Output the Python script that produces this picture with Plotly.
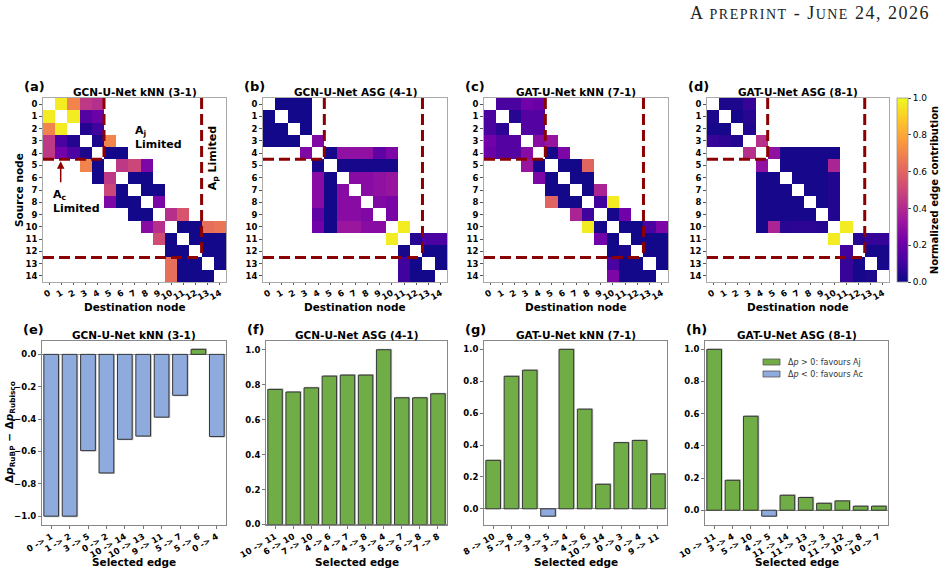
import plotly.graph_objects as go

W, H = 943, 574
N = None

# ---------------- data ----------------
node_labels = [str(i) for i in range(15)]
heat_titles = ["GCN-U-Net kNN (3-1)", "GCN-U-Net ASG (4-1)",
               "GAT-U-Net kNN (7-1)", "GAT-U-Net ASG (8-1)"]
bar_titles = heat_titles
panel_top = ["(a)", "(b)", "(c)", "(d)"]
panel_bot = ["(e)", "(f)", "(g)", "(h)"]

mat_gcn_knn = [
    [N, .97, .70, .45, .42, N, N, N, N, N, N, N, N, N, N],
    [.97, N, .97, .15, .20, N, N, N, N, N, N, N, N, N, N],
    [.70, .97, N, .04, .10, N, N, N, N, N, N, N, N, N, N],
    [.45, .12, .04, N, .03, .70, N, N, N, N, N, N, N, N, N],
    [.45, .22, .13, .03, N, .01, .01, N, N, N, N, N, N, N, N],
    [N, N, N, .70, .01, N, .45, .50, .25, N, N, N, N, N, N],
    [N, N, N, N, .01, .45, N, .01, .01, N, N, N, N, N, N],
    [N, N, N, N, N, .50, .01, N, .01, .01, N, N, N, N, N],
    [N, N, N, N, N, .25, .01, .01, N, .25, N, N, N, N, N],
    [N, N, N, N, N, N, N, .01, .01, N, .42, .55, N, N, N],
    [N, N, N, N, N, N, N, N, .28, .42, N, .01, .01, .63, .65],
    [N, N, N, N, N, N, N, N, N, .52, .01, N, .01, .01, .01],
    [N, N, N, N, N, N, N, N, N, N, .01, .01, N, .01, .01],
    [N, N, N, N, N, N, N, N, N, N, .63, .01, .01, N, .01],
    [N, N, N, N, N, N, N, N, N, N, .63, .01, .01, .01, N],
]

mat_gcn_asg = [
    [N, .01, .01, .01, N, N, N, N, N, N, N, N, N, N, N],
    [.01, N, .01, .01, N, N, N, N, N, N, N, N, N, N, N],
    [.01, .01, N, .01, N, N, N, N, N, N, N, N, N, N, N],
    [.01, .01, .01, N, .26, N, N, N, N, N, N, N, N, N, N],
    [N, N, N, .26, N, .02, .30, .30, .30, .18, .25, N, N, N, N],
    [N, N, N, N, .02, N, .02, .02, .02, .02, .02, N, N, N, N],
    [N, N, N, N, .28, .01, N, .28, .28, .30, .32, N, N, N, N],
    [N, N, N, N, .28, .01, .28, N, .28, .30, .32, N, N, N, N],
    [N, N, N, N, .28, .01, .28, .28, N, .26, .24, N, N, N, N],
    [N, N, N, N, .18, .01, .28, .28, .26, N, .24, N, N, N, N],
    [N, N, N, N, .22, .01, .33, .33, .28, .28, N, .97, N, N, N],
    [N, N, N, N, N, N, N, N, N, N, .97, N, .05, .12, .12],
    [N, N, N, N, N, N, N, N, N, N, N, .02, N, .01, .01],
    [N, N, N, N, N, N, N, N, N, N, N, .10, .01, N, .01],
    [N, N, N, N, N, N, N, N, N, N, N, .10, .01, .01, N],
]

mat_gat_knn = [
    [N, .12, .12, .22, .20, N, N, N, N, N, N, N, N, N, N],
    [.12, N, .05, .15, .15, N, N, N, N, N, N, N, N, N, N],
    [.12, .06, N, .15, .15, N, N, N, N, N, N, N, N, N, N],
    [.22, .15, .15, N, .28, .32, N, N, N, N, N, N, N, N, N],
    [.20, .15, .15, .28, N, .02, .25, N, N, N, N, N, N, N, N],
    [N, N, N, .32, .02, N, .01, .01, .60, N, N, N, N, N, N],
    [N, N, N, N, .25, .01, N, .01, .01, N, N, N, N, N, N],
    [N, N, N, N, N, .01, .01, N, .01, .38, N, N, N, N, N],
    [N, N, N, N, N, .60, .01, .01, N, .10, .97, N, N, N, N],
    [N, N, N, N, N, N, N, .38, .10, N, .02, .22, N, N, N],
    [N, N, N, N, N, N, N, N, .97, .02, N, .01, .01, .12, .25],
    [N, N, N, N, N, N, N, N, N, .22, .01, N, .01, .01, .01],
    [N, N, N, N, N, N, N, N, N, N, .01, .03, N, .01, .01],
    [N, N, N, N, N, N, N, N, N, N, .12, .01, .01, N, .01],
    [N, N, N, N, N, N, N, N, N, N, .25, .01, .01, .01, N],
]

mat_gat_asg = [
    [N, .03, .03, .08, N, N, N, N, N, N, N, N, N, N, N],
    [.03, N, .02, .05, N, N, N, N, N, N, N, N, N, N, N],
    [.02, .02, N, .04, N, N, N, N, N, N, N, N, N, N, N],
    [.08, .06, .04, N, .42, N, N, N, N, N, N, N, N, N, N],
    [N, N, N, .42, N, .30, .02, .02, .02, .02, .02, N, N, N, N],
    [N, N, N, N, .30, N, .02, .02, .02, .02, .38, N, N, N, N],
    [N, N, N, N, .02, .02, N, .02, .02, .02, .04, N, N, N, N],
    [N, N, N, N, .02, .02, .02, N, .02, .02, .04, N, N, N, N],
    [N, N, N, N, .02, .02, .02, .02, N, .02, .04, N, N, N, N],
    [N, N, N, N, .02, .02, .02, .02, .02, N, .04, N, N, N, N],
    [N, N, N, N, .02, .38, .05, .06, .06, .05, N, .97, N, N, N],
    [N, N, N, N, N, N, N, N, N, N, .97, N, .05, .08, .08],
    [N, N, N, N, N, N, N, N, N, N, N, .10, N, .02, .02],
    [N, N, N, N, N, N, N, N, N, N, N, .08, .02, N, .02],
    [N, N, N, N, N, N, N, N, N, N, N, .08, .02, .03, N],
]
matrices = [mat_gcn_knn, mat_gcn_asg, mat_gat_knn, mat_gat_asg]

edges_e = ["0 -> 1", "1 -> 2", "3 -> 5", "0 -> 2", "10 -> 14", "10 -> 13",
           "9 -> 11", "5 -> 7", "5 -> 6", "0 -> 4"]
vals_e = [-1.0, -1.0, -0.595, -0.733, -0.525, -0.505, -0.388, -0.253, 0.031, -0.508]

edges_f = ["10 -> 11", "6 -> 10", "7 -> 10", "4 -> 6", "4 -> 7", "4 -> 8",
           "3 -> 4", "6 -> 7", "6 -> 8", "7 -> 8"]
vals_f = [0.773, 0.758, 0.782, 0.849, 0.855, 0.855, 1.0, 0.725, 0.725, 0.748]

edges_g = ["8 -> 10", "5 -> 8", "7 -> 9", "3 -> 5", "3 -> 4", "4 -> 6",
           "10 -> 14", "0 -> 3", "0 -> 4", "9 -> 11"]
vals_g = [0.304, 0.831, 0.869, -0.046, 1.0, 0.625, 0.154, 0.415, 0.429, 0.219]

edges_h = ["10 -> 11", "3 -> 4", "5 -> 10", "4 -> 5", "11 -> 14", "11 -> 13",
           "0 -> 3", "11 -> 12", "10 -> 8", "10 -> 7"]
vals_h = [1.0, 0.186, 0.584, -0.037, 0.093, 0.079, 0.043, 0.058, 0.025, 0.025]

bar_edges = [edges_e, edges_f, edges_g, edges_h]
bar_vals = [vals_e, vals_f, vals_g, vals_h]

cbar_ticks = [0.0, 0.2, 0.4, 0.6, 0.8, 1.0]
legend_labels = ["Δ<i>p</i> &gt; 0: favours Aj", "Δ<i>p</i> &lt; 0: favours Ac"]

# ---------------- style / layout ----------------
GREEN = "#70ad47"
BLUE = "#8faadc"
RED = "#8b0000"
FONT = "DejaVu Sans"

heat_x = [(43, 226), (263, 447), (484, 668), (707, 889)]
heat_y = (98, 282)
bar_x = [(42, 226), (266, 447), (484, 667), (705, 888)]
bar_y = (341, 524.5)


def fx(p):
    return p / W


def fy(p):
    return 1 - p / H


def bold(size):
    return dict(family=FONT, size=size, color="black", weight="bold")


def fmt(v):
    s = f"{abs(v):.1f}"
    return ("\u2212" + s) if v < -1e-9 else s


fig = go.Figure()
layout = dict(width=W, height=H,
              margin=dict(l=0, r=0, t=0, b=0, pad=0, autoexpand=False),
              paper_bgcolor="white", plot_bgcolor="white", showlegend=False,
              barmode="overlay")
annotations = []
shapes = []

for i, M in enumerate(matrices):
    k = i + 1
    xa, ya = f"x{k}", f"y{k}"
    fig.add_trace(go.Heatmap(
        z=M, x=list(range(15)), y=list(range(15)), colorscale="Plasma",
        zmin=0, zmax=1, xaxis=xa, yaxis=ya, hoverongaps=False,
        showscale=(i == 3),
        colorbar=dict(
            x=fx(897), xanchor="left", y=fy(heat_y[0]), yanchor="top",
            lenmode="pixels", len=heat_y[1] - heat_y[0],
            thicknessmode="pixels", thickness=11, xpad=0, ypad=0,
            outlinewidth=0.8, outlinecolor="#999",
            tickvals=cbar_ticks, ticktext=[f"{t:.1f}" for t in cbar_ticks],
            ticks="outside", ticklen=3, tickcolor="#444",
            tickfont=dict(family=FONT, size=9, color="black"),
            title=dict(text="Normalized edge contribution", side="right",
                       font=bold(10)),
        ) if i == 3 else None,
    ))
    x0, x1 = heat_x[i]
    layout[f"xaxis{k}"] = dict(
        domain=[fx(x0), fx(x1)], anchor=ya, range=[-0.5, 14.5],
        tickvals=list(range(15)), ticktext=node_labels, tickangle=-30,
        ticks="outside", ticklen=2, tickcolor="#555", showgrid=False,
        zeroline=False, showline=True, mirror=True, linecolor="#aaa",
        linewidth=0.8, tickfont=bold(8.5))
    layout[f"yaxis{k}"] = dict(
        domain=[fy(heat_y[1]), fy(heat_y[0])], anchor=xa, range=[14.5, -0.5],
        tickvals=list(range(15)), ticktext=node_labels,
        ticks="outside", ticklen=3, tickcolor="#555", showgrid=False,
        zeroline=False, showline=True, mirror=True, linecolor="#aaa",
        linewidth=0.8, tickfont=bold(8.5))
    # dashed region lines
    for (a0, b0, a1, b1) in [(4.5, -0.5, 4.5, 4.5), (-0.5, 4.5, 4.5, 4.5),
                             (12.5, -0.5, 12.5, 12.5), (-0.5, 12.5, 12.5, 12.5)]:
        shapes.append(dict(type="line", xref=xa, yref=ya, x0=a0, y0=b0,
                           x1=a1, y1=b1,
                           line=dict(color=RED, width=3, dash="11px,5px")))
    cx = fx((x0 + x1) / 2)
    annotations.append(dict(text=heat_titles[i], x=cx, y=fy(92), xref="paper",
                            yref="paper", showarrow=False, font=bold(10.5),
                            xanchor="center", yanchor="middle"))
    annotations.append(dict(text="Destination node", x=cx, y=fy(307),
                            xref="paper", yref="paper", showarrow=False,
                            font=bold(10.5), xanchor="center", yanchor="middle"))
    annotations.append(dict(text=panel_top[i], x=fx(x0 - 21), y=fy(86),
                            xref="paper", yref="paper", showarrow=False,
                            font=bold(13), xanchor="left", yanchor="middle"))

annotations.append(dict(text="Source node", x=fx(19), y=fy(190), xref="paper",
                        yref="paper", showarrow=False, font=bold(10.5),
                        textangle=-90, xanchor="center", yanchor="middle"))

# region text in (a)
annotations += [
    dict(text="A<sub>j</sub><br>Limited", x=6.9, y=2.7, xref="x1", yref="y1",
         showarrow=False, font=bold(11), align="left", xanchor="left",
         yanchor="middle"),
    dict(text="A<sub>c</sub><br>Limited", x=0.15, y=7.9, xref="x1", yref="y1",
         showarrow=False, font=bold(11), align="left", xanchor="left",
         yanchor="middle"),
    dict(text="A<sub>p</sub> Limited", x=13.45, y=4.4, xref="x1", yref="y1",
         showarrow=False, font=bold(11), textangle=-90, xanchor="center",
         yanchor="middle"),
    dict(text="", x=0.95, y=4.65, ax=0.95, ay=6.5, xref="x1", yref="y1",
         axref="x1", ayref="y1", showarrow=True, arrowhead=2, arrowsize=1,
         arrowwidth=1.5, arrowcolor=RED),
]

# ---------------- bar charts ----------------
for i in range(4):
    k = i + 5
    xa, ya = f"x{k}", f"y{k}"
    vals = bar_vals[i]
    xs = list(range(len(vals)))
    # soft drop shadow behind each bar
    fig.add_trace(go.Bar(
        x=[x + 0.07 for x in xs], y=[v + (0.006 if v > 0 else -0.006) for v in vals],
        width=0.8, xaxis=xa, yaxis=ya, hoverinfo="skip",
        marker=dict(color="#c4c4c4", line=dict(width=0))))
    fig.add_trace(go.Bar(
        x=xs, y=vals, width=0.8, xaxis=xa, yaxis=ya,
        marker=dict(color=[GREEN if v > 0 else BLUE for v in vals],
                    line=dict(color="#333", width=1))))
    vmin, vmax = min(min(vals), 0), max(vals)
    span = vmax - vmin
    lo = vmin - 0.05 * span if vmin < 0 else 0
    hi = vmax + 0.05 * span
    if vmin < -0.5:
        tv = [-1.0, -0.8, -0.6, -0.4, -0.2, 0.0]
    else:
        tv = [0.0, 0.2, 0.4, 0.6, 0.8, 1.0]
    x0, x1 = bar_x[i]
    layout[f"xaxis{k}"] = dict(
        domain=[fx(x0), fx(x1)], anchor=ya, range=[-0.5, len(vals) - 0.5],
        tickvals=xs, ticktext=bar_edges[i], tickangle=-30,
        ticks="outside", ticklen=3, tickcolor="#777", showgrid=False,
        zeroline=False, showline=True, mirror=True, linecolor="#888",
        linewidth=1, tickfont=bold(8.5))
    layout[f"yaxis{k}"] = dict(
        domain=[fy(bar_y[1]), fy(bar_y[0])], anchor=xa, range=[lo, hi],
        tickvals=tv, ticktext=[fmt(t) for t in tv],
        ticks="outside", ticklen=3, tickcolor="#777", showgrid=False,
        zeroline=True, zerolinecolor="#888", zerolinewidth=1,
        showline=True, mirror=True, linecolor="#888", linewidth=1,
        tickfont=bold(8.5))
    cx = fx((x0 + x1) / 2)
    annotations.append(dict(text=bar_titles[i], x=cx, y=fy(335), xref="paper",
                            yref="paper", showarrow=False, font=bold(10.5),
                            xanchor="center", yanchor="middle"))
    annotations.append(dict(text="Selected edge", x=cx, y=fy(562), xref="paper",
                            yref="paper", showarrow=False, font=bold(10.5),
                            xanchor="center", yanchor="middle"))
    annotations.append(dict(text=panel_bot[i], x=fx(x0 - 21), y=fy(329),
                            xref="paper", yref="paper", showarrow=False,
                            font=bold(13), xanchor="left", yanchor="middle"))

annotations.append(dict(
    text="Δ<i>p</i><sub>RuBP</sub> − Δ<i>p</i><sub>Rubisco</sub>",
    x=fx(10), y=fy(432), xref="paper", yref="paper", showarrow=False,
    font=bold(10.5), textangle=-90, xanchor="center", yanchor="middle"))

# legend (h)
for j, (col, lab) in enumerate(zip([GREEN, BLUE], legend_labels)):
    yc = 362 + 12 * j
    shapes.append(dict(type="rect", xref="paper", yref="paper",
                       x0=fx(763), x1=fx(780), y0=fy(yc - 3), y1=fy(yc + 3),
                       fillcolor=col, line=dict(color="#555", width=0.8)))
    annotations.append(dict(text=lab, x=fx(786), y=fy(yc), xref="paper",
                            yref="paper", showarrow=False, xanchor="left",
                            yanchor="middle",
                            font=dict(family=FONT, size=8, color="#333")))

# header
annotations.append(dict(
    text='<span style="letter-spacing:1.5px">A <span style="font-size:14px">PREPRINT</span>'
         ' - J<span style="font-size:14px">UNE</span> 24, 2026</span>',
    x=fx(932), y=fy(13), xref="paper", yref="paper", showarrow=False,
    xanchor="right", yanchor="middle",
    font=dict(family="Liberation Serif", size=18, color="#222")))

layout["annotations"] = annotations
layout["shapes"] = shapes
fig.update_layout(**layout)
fig.write_html("out.html")
